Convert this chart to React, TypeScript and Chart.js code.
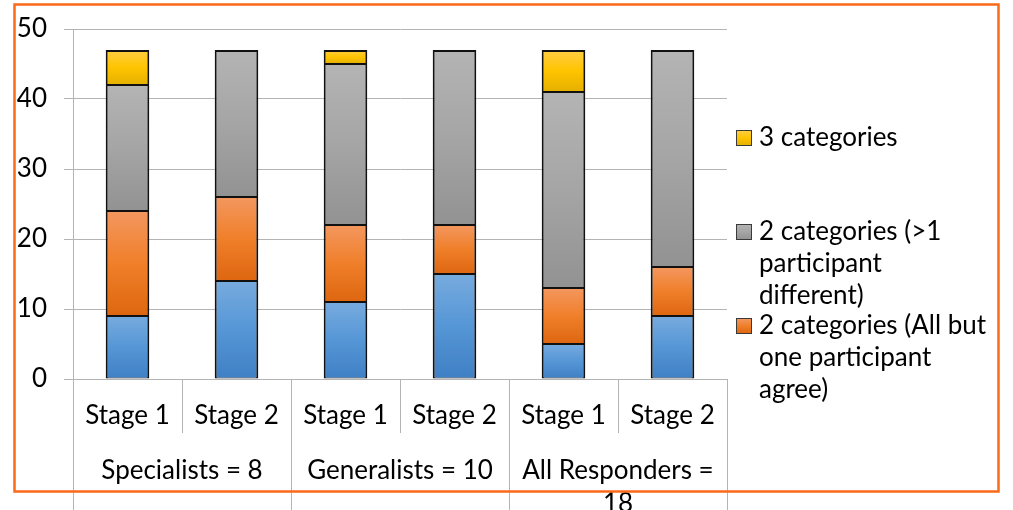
import { useEffect, useRef } from 'react';
import { Chart, registerables } from 'chart.js';

Chart.register(...registerables);

// ---- Data ----
const stageLabels = ['Stage 1', 'Stage 2', 'Stage 1', 'Stage 2', 'Stage 1', 'Stage 2'];
const groupLabels = ['Specialists = 8', 'Generalists = 10', 'All Responders = 18'];
const stagesPerGroup = 2;

const seriesNames = [
  '1 category (all agree)',
  '2 categories (All but one participant agree)',
  '2 categories (>1 participant different)',
  '3 categories',
];
const oneCategory = [9, 14, 11, 15, 5, 9];
const allButOneAgree = [15, 12, 11, 7, 8, 7];
const moreThanOneDifferent = [18, 21, 23, 25, 28, 31];
const threeCategories = [5, 0, 2, 0, 6, 0];
const seriesData = [oneCategory, allButOneAgree, moreThanOneDifferent, threeCategories];

const yMin = 0;
const yMax = 50;
const yStep = 10;

// legend: series index + wrapped lines (as shown in the reference, top series first)
const legendSeries = [3, 2, 1];
const legendLines = [
  ['3 categories'],
  ['2 categories (>1', 'participant', 'different)'],
  ['2 categories (All but', 'one participant', 'agree)'],
];

// ---- Styles ----
const seriesGradients = [
  ['#77abde', '#5596d6', '#3f7fc4'],
  ['#f3975f', '#f07f2a', '#de6610'],
  ['#b4b4b4', '#a5a5a5', '#929292'],
  ['#ffcd45', '#ffc400', '#e4b000'],
];
const FONT = '"Lato", "Open Sans", sans-serif';
const FONT_SIZE = 26;
const GRID = '#b4b4b4';
const FRAME = '#fb6a16';

function barGradient(ctx: any, s: number) {
  const colors = seriesGradients[s];
  const chart = ctx.chart;
  if (ctx.type !== 'data' || !chart.chartArea || !chart.scales?.y) return colors[1];
  const i = ctx.dataIndex;
  let start = 0;
  for (let k = 0; k < s; k++) start += seriesData[k][i] || 0;
  const end = start + (seriesData[s][i] || 0);
  const yTop = chart.scales.y.getPixelForValue(end);
  const yBot = chart.scales.y.getPixelForValue(start);
  if (yBot - yTop < 1) return colors[1];
  const g = chart.ctx.createLinearGradient(0, yTop, 0, yBot);
  g.addColorStop(0, colors[0]);
  g.addColorStop(0.5, colors[1]);
  g.addColorStop(1, colors[2]);
  return g;
}

function barBorder(ctx: any, s: number) {
  if (ctx.type !== 'data') return 1.5;
  const i = ctx.dataIndex;
  let isTop = true;
  for (let k = s + 1; k < seriesData.length; k++) if ((seriesData[k][i] || 0) > 0) isTop = false;
  return { left: 2, right: 2, top: isTop ? 2 : 1, bottom: 1 };
}

function wrapText(ctx: CanvasRenderingContext2D, text: string, maxWidth: number) {
  const words = text.split(' ');
  const lines: string[] = [];
  let cur = '';
  for (const w of words) {
    const test = cur ? cur + ' ' + w : w;
    if (cur && ctx.measureText(test).width > maxWidth) {
      lines.push(cur);
      cur = w;
    } else cur = test;
  }
  if (cur) lines.push(cur);
  return lines;
}

const decorPlugin = {
  id: 'decor',
  afterDraw(chart: any) {
    const { ctx, chartArea, scales } = chart;
    const x = scales.x;
    const n = stageLabels.length;
    const step = (chartArea.right - chartArea.left) / n;
    const base = chartArea.bottom;
    const H = chart.height;
    ctx.save();
    // category separators
    ctx.strokeStyle = GRID;
    ctx.lineWidth = 1;
    for (let i = 0; i <= n; i++) {
      const px = Math.round(chartArea.left + i * step) + 0.5;
      const isGroup = i % stagesPerGroup === 0;
      ctx.beginPath();
      ctx.moveTo(px, base);
      ctx.lineTo(px, isGroup ? H : base + 54);
      ctx.stroke();
    }
    // stage labels
    ctx.fillStyle = '#000';
    ctx.font = `${FONT_SIZE}px ${FONT}`;
    ctx.textAlign = 'center';
    ctx.textBaseline = 'middle';
    stageLabels.forEach((lab, i) => {
      ctx.fillText(lab, x.getPixelForValue(i), base + 37);
    });
    // group labels
    groupLabels.forEach((lab, g) => {
      const left = chartArea.left + g * stagesPerGroup * step;
      const cx = left + (stagesPerGroup * step) / 2;
      const lines = wrapText(ctx, lab, stagesPerGroup * step - 16);
      lines.forEach((ln, k) => ctx.fillText(ln, cx, base + 92 + k * 33));
    });
    // legend
    ctx.textAlign = 'left';
    ctx.textBaseline = 'alphabetic';
    const firstBaselines = [146, 240, 334];
    legendSeries.forEach((s, k) => {
      const b = firstBaselines[k];
      const sq = 15;
      const sx = 736.5;
      const sy = Math.round(b - 9 - sq / 2) + 0.5;
      const cols = seriesGradients[s];
      const g = ctx.createLinearGradient(0, sy, 0, sy + sq);
      g.addColorStop(0, cols[0]);
      g.addColorStop(0.5, cols[1]);
      g.addColorStop(1, cols[2]);
      ctx.fillStyle = g;
      ctx.fillRect(sx, sy, sq, sq);
      ctx.strokeStyle = '#3a3a3a';
      ctx.lineWidth = 1;
      ctx.strokeRect(sx, sy, sq, sq);
      ctx.fillStyle = '#000';
      legendLines[k].forEach((ln, j) => ctx.fillText(ln, 759, b + j * 32));
    });
    // outer orange frame
    ctx.strokeStyle = FRAME;
    ctx.lineWidth = 2.5;
    ctx.strokeRect(14.5, 4.5, 984, 487);
    ctx.restore();
  },
};

export default function App() {
  const canvasRef = useRef<HTMLCanvasElement | null>(null);

  useEffect(() => {
    if (!canvasRef.current) return;
    const chart = new Chart(canvasRef.current, {
      type: 'bar',
      data: {
        labels: stageLabels,
        datasets: seriesData.map((d, s) => ({
          label: seriesNames[s],
          data: d,
          backgroundColor: (c: any) => barGradient(c, s),
          borderColor: '#111111',
          borderWidth: (c: any) => barBorder(c, s),
          borderSkipped: false,
          barPercentage: 0.4,
          categoryPercentage: 1,
        })),
      },
      options: {
        animation: false,
        responsive: false,
        events: [],
        layout: { padding: { top: 29, right: 286, bottom: 131, left: 0 } },
        plugins: {
          legend: { display: false },
          tooltip: { enabled: false },
          title: { display: false },
        },
        scales: {
          x: {
            stacked: true,
            display: false,
          },
          y: {
            stacked: true,
            min: yMin,
            max: yMax,
            afterFit: (scale: any) => {
              scale.width = 73;
              scale.paddingTop = 0;
              scale.paddingBottom = 0;
            },
            ticks: {
              stepSize: yStep,
              color: '#000',
              padding: 17,
              font: { family: FONT, size: FONT_SIZE },
            },
            grid: {
              color: GRID,
              lineWidth: 1,
              tickLength: 9,
              drawTicks: true,
            },
            border: { display: true, color: GRID, width: 1 },
          },
        },
      },
      plugins: [decorPlugin],
    });
    return () => chart.destroy();
  }, []);

  return (
    <div style={{ position: 'absolute', left: 0, top: 0, width: 1013, height: 510, background: '#fff' }}>
      <canvas ref={canvasRef} width={1013} height={510} style={{ display: 'block' }} />
    </div>
  );
}
